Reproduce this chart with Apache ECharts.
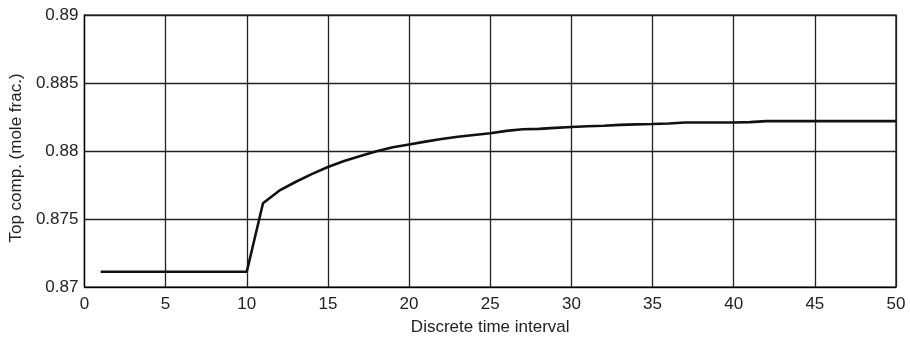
<!DOCTYPE html>
<html>
<head>
<meta charset="utf-8">
<script src="https://cdn.jsdelivr.net/npm/echarts@6/dist/echarts.min.js"></script>
<style>html,body{margin:0;padding:0;background:#fff;}#c{width:910px;height:343px;}</style>
</head>
<body>
<div id="c"></div>
<script>
var timeSteps = [1,2,3,4,5,6,7,8,9,10,11,12,13,14,15,16,17,18,19,20,21,22,23,24,25,26,27,28,29,30,31,32,33,34,35,36,37,38,39,40,41,42,43,44,45,46,47,48,49,50];
var topComp = [0.87112,0.87112,0.87112,0.87112,0.87112,0.87112,0.87112,0.87112,0.87112,0.87112,
  0.87616,0.87708,0.87772,0.87830,0.87882,0.87926,0.87964,0.87998,0.88027,0.88048,
  0.88069,0.88088,0.88105,0.88118,0.88130,0.88148,0.88160,0.88163,0.88170,0.88176,
  0.88182,0.88186,0.88192,0.88196,0.88198,0.88202,0.88210,0.88210,0.88210,0.88210,
  0.88212,0.88220,0.88220,0.88220,0.88220,0.88220,0.88220,0.88220,0.88220,0.88220];
var xTicks = [0,5,10,15,20,25,30,35,40,45,50];
var yTicks = [0.87,0.875,0.88,0.885,0.89];
var xTitle = 'Discrete time interval';
var yTitle = 'Top comp. (mole frac.)';

var font = 'Liberation Sans, Arial, Helvetica, sans-serif';
var chart = echarts.init(document.getElementById('c'), null, {renderer: 'canvas'});
var pts = timeSteps.map(function (t, i) { return [t, topComp[i]]; });
chart.setOption({
  animation: false,
  backgroundColor: '#fff',
  grid: {left: 83, right: 14, top: 15, bottom: 56, show: true, borderColor: '#000', borderWidth: 1.2, backgroundColor: 'transparent'},
  xAxis: {
    type: 'value', min: xTicks[0], max: xTicks[xTicks.length - 1], interval: 5,
    name: xTitle, nameLocation: 'middle', nameGap: 32,
    nameTextStyle: {fontFamily: font, fontSize: 17, color: '#222'},
    axisLine: {show: true, lineStyle: {color: '#000', width: 1.2}},
    axisTick: {show: false},
    axisLabel: {fontFamily: font, fontSize: 17, color: '#222', margin: 9,
      formatter: function (v) { return xTicks.indexOf(v) >= 0 ? String(v) : ''; }},
    splitLine: {show: true, lineStyle: {color: '#222', width: 1.3}}
  },
  yAxis: {
    type: 'value', min: yTicks[0], max: yTicks[yTicks.length - 1], interval: 0.005,
    name: yTitle, nameLocation: 'middle', nameGap: 53,
    nameTextStyle: {fontFamily: font, fontSize: 17, color: '#222', padding: [0, 14, 0, 0]},
    axisLine: {show: true, lineStyle: {color: '#000', width: 1.2}},
    axisTick: {show: false},
    axisLabel: {fontFamily: font, fontSize: 17, color: '#222', margin: 6,
      formatter: function (v) { var r = Math.round(v * 1000) / 1000; return String(r); }},
    splitLine: {show: true, lineStyle: {color: '#222', width: 1.3}}
  },
  series: [{
    type: 'line', data: pts, showSymbol: false, symbol: 'none',
    lineStyle: {color: '#111', width: 2.6}
  }]
});
</script>
</body>
</html>
